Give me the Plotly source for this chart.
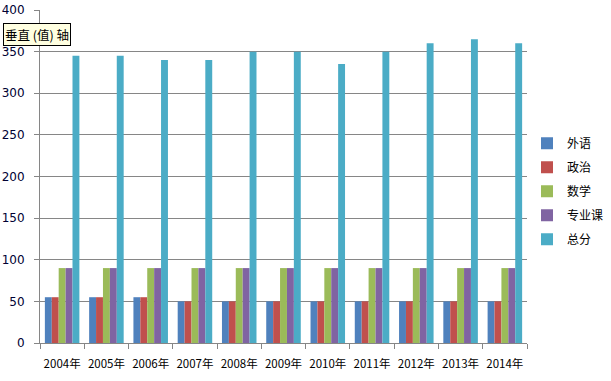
import plotly.graph_objects as go

years = ["2004年", "2005年", "2006年", "2007年", "2008年", "2009年", "2010年",
         "2011年", "2012年", "2013年", "2014年"]
waiyu = [55, 55, 55, 50, 50, 50, 50, 50, 50, 50, 50]
zhengzhi = [55, 55, 55, 50, 50, 50, 50, 50, 50, 50, 50]
shuxue = [90, 90, 90, 90, 90, 90, 90, 90, 90, 90, 90]
zhuanye = [90, 90, 90, 90, 90, 90, 90, 90, 90, 90, 90]
zongfen = [345, 345, 340, 340, 350, 350, 335, 350, 360, 365, 360]

series = [
    ("外语", waiyu, "#4F81BD"),
    ("政治", zhengzhi, "#C0504D"),
    ("数学", shuxue, "#9BBB59"),
    ("专业课", zhuanye, "#8064A2"),
    ("总分", zongfen, "#4BACC6"),
]

fig = go.Figure()
for name, vals, col in series:
    fig.add_trace(go.Bar(x=years, y=vals, name=name, marker_color=col,
                         marker_line_width=0, legendgroup=name))

font_family = "Noto Sans CJK SC, DejaVu Sans, sans-serif"
fig.update_layout(
    width=611, height=381,
    margin=dict(l=40, r=84, t=10, b=38, autoexpand=False),
    paper_bgcolor="white", plot_bgcolor="white",
    barmode="group", bargap=0.22, bargroupgap=0,
    font=dict(family=font_family, size=12, color="#000000"),
    showlegend=True,
    legend=dict(x=1.0, xanchor="left", y=0.456, yanchor="middle",
                font=dict(size=12, family=font_family),
                itemwidth=30, tracegroupgap=5, traceorder="grouped"),
    xaxis=dict(showline=True, linecolor="#868686", linewidth=1,
               ticks="outside", tickson="boundaries", ticklen=5,
               tickcolor="#868686", showgrid=False, tickangle=0,
               automargin=False, ticklabelstandoff=10,
               tickfont=dict(size=11.5, family=font_family)),
    yaxis=dict(range=[0, 400], dtick=50, showline=True, linecolor="#868686",
               linewidth=1, ticks="outside", ticklen=5, tickcolor="#868686",
               showgrid=True, gridcolor="#868686", gridwidth=1,
               zeroline=False, automargin=False, ticklabelstandoff=7,
               tickfont=dict(size=12, family="DejaVu Sans, sans-serif",
                             color="#000033")),
    annotations=[dict(text="垂直 (值) 轴", xref="paper", yref="paper",
                      x=-0.076, y=0.925, xanchor="left", yanchor="middle",
                      showarrow=False, bgcolor="#FFFFE1",
                      bordercolor="#000000", borderwidth=1, borderpad=1,
                      font=dict(size=12.5, family=font_family, color="#000"))],
)

fig.write_html("out.html", config={"displayModeBar": False},
               post_script="document.body.style.margin='0';document.body.style.padding='0';")
